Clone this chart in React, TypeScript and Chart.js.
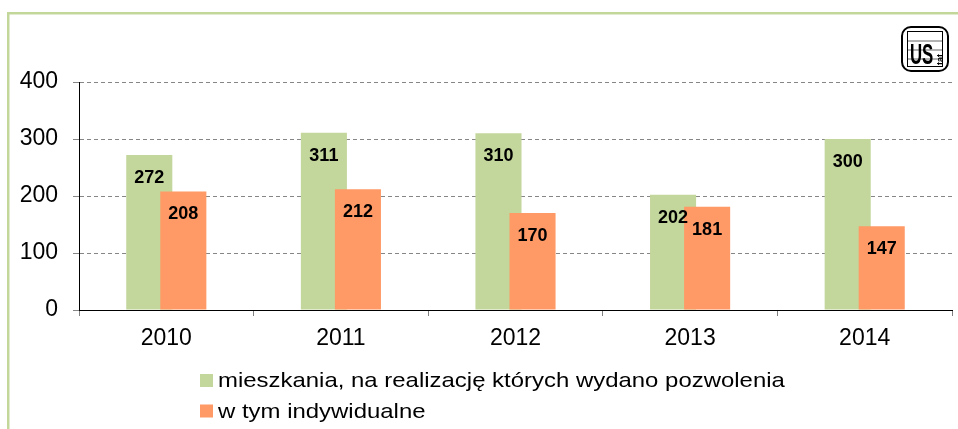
import React, { useEffect, useRef } from "react";
import { Chart, registerables } from "chart.js";

Chart.register(...registerables);

const categories = ["2010", "2011", "2012", "2013", "2014"];
const totalPermits = [272, 311, 310, 202, 300];
const individualPermits = [208, 212, 170, 181, 147];
const seriesLabels = [
  "mieszkania, na realizację których wydano pozwolenia",
  "w tym indywidualne",
];
const yMin = 0;
const yMax = 400;
const yStep = 100;

const FONT = "'Liberation Sans', Arial, sans-serif";
const GREEN = "#c3d69b";
const ORANGE = "#ff9966";
const FRAME = "#c4d79b";

const W = 958;
const H = 429;

const decorPlugin = {
  id: "decor",
  beforeDraw(chart: any) {
    const ctx = chart.ctx;
    ctx.save();
    ctx.fillStyle = "#ffffff";
    ctx.fillRect(0, 0, W, H);
    ctx.fillStyle = FRAME;
    ctx.fillRect(7, 12, W - 7, 2.5);
    ctx.fillRect(7, 12, 2.5, H - 12);
    ctx.restore();
  },
  // draw the first series underneath the second one (second series overlaps it)
  beforeDatasetsDraw(chart: any) {
    const meta = chart.getDatasetMeta(0);
    if (meta && meta.controller) meta.controller.draw();
  },
  beforeDatasetDraw(chart: any, args: any) {
    if (args.index === 0) return false;
  },
  afterDatasetsDraw(chart: any) {
    const ctx = chart.ctx;
    ctx.save();
    ctx.font = `bold 18px ${FONT}`;
    ctx.fillStyle = "#000";
    ctx.textAlign = "center";
    ctx.textBaseline = "middle";
    chart.data.datasets.forEach((ds: any, i: number) => {
      const meta = chart.getDatasetMeta(i);
      meta.data.forEach((bar: any, j: number) => {
        ctx.fillText(String(ds.data[j]), bar.x, bar.y + 23);
      });
    });
    ctx.restore();
  },
  afterDraw(chart: any) {
    const ctx = chart.ctx;
    ctx.save();
    // legend
    ctx.textBaseline = "middle";
    ctx.textAlign = "left";
    const rowY = [380.5, 411];
    chart.data.datasets.forEach((ds: any, i: number) => {
      ctx.fillStyle = ds.backgroundColor;
      ctx.fillRect(200, rowY[i] - 6.5, 13, 13);
      ctx.fillStyle = "#000";
      ctx.save();
      ctx.translate(218, rowY[i] + 1);
      ctx.scale(1.14, 1);
      ctx.font = `21px ${FONT}`;
      ctx.fillText(ds.label, 0, 0);
      ctx.restore();
    });
    // logo
    const lx = 902, ly = 27, lw = 46, lh = 44;
    ctx.strokeStyle = "#000";
    ctx.lineWidth = 2;
    ctx.beginPath();
    (ctx as any).roundRect(lx, ly, lw, lh, 9);
    ctx.stroke();
    ctx.lineWidth = 1;
    ctx.strokeRect(lx + 5.5, ly + 4.5, lw - 11, lh - 9);
    ctx.strokeStyle = "#666";
    for (let k = 1; k < 4; k++) {
      ctx.beginPath();
      ctx.moveTo(lx + 6, ly + 5 + k * 9);
      ctx.lineTo(lx + lw - 6, ly + 5 + k * 9);
      ctx.stroke();
    }
    ctx.fillStyle = "#000";
    ctx.textBaseline = "alphabetic";
    ctx.save();
    ctx.translate(lx + 8, ly + 37);
    ctx.scale(0.7, 1.25);
    ctx.font = `bold 24px ${FONT}`;
    ctx.fillText("U", 0, 0);
    ctx.fillText("S", 17, 0);
    ctx.restore();
    ctx.save();
    ctx.translate(lx + 41, ly + 38);
    ctx.rotate(-Math.PI / 2);
    ctx.font = `bold 9px ${FONT}`;
    ctx.fillText("tat", 0, 0);
    ctx.restore();
    ctx.restore();
  },
};

export default function App() {
  const ref = useRef<HTMLCanvasElement | null>(null);
  useEffect(() => {
    document.body.style.margin = "0";
    if (!ref.current) return;
    const chart = new Chart(ref.current, {
      type: "bar",
      data: {
        labels: categories,
        datasets: [
          {
            label: seriesLabels[0],
            data: totalPermits,
            backgroundColor: GREEN,
            categoryPercentage: 0.39,
            barPercentage: 1.353,
          },
          {
            label: seriesLabels[1],
            data: individualPermits,
            backgroundColor: ORANGE,
            categoryPercentage: 0.39,
            barPercentage: 1.353,
          },
        ],
      },
      plugins: [decorPlugin],
      options: {
        animation: false,
        responsive: false,
        devicePixelRatio: 1,
        layout: { padding: { left: 0, right: 6, top: 82, bottom: 79 } },
        plugins: {
          legend: { display: false },
          tooltip: { enabled: false },
          title: { display: false },
        },
        scales: {
          x: {
            afterFit: (s: any) => {
              s.height = 40;
            },
            grid: {
              display: true,
              drawOnChartArea: false,
              drawTicks: true,
              tickLength: 6,
              offset: true,
              color: "#808080",
            },
            border: { display: true, color: "#000", width: 1 },
            ticks: {
              color: "#000",
              font: { family: FONT, size: 23 },
              padding: 9,
            },
          },
          y: {
            min: yMin,
            max: yMax,
            afterFit: (s: any) => {
              s.width = 79;
            },
            grid: {
              color: (c: any) => (c.tick && c.tick.value === 0 ? "rgba(0,0,0,0)" : "#868686"),
              tickColor: "#868686",
              tickLength: 6,
            },
            border: { display: true, color: "#000", width: 1, dash: [4, 3] },
            ticks: {
              stepSize: yStep,
              color: "#000",
              font: { family: FONT, size: 23 },
              padding: 15,
            },
          },
        },
      },
    } as any);
    return () => chart.destroy();
  }, []);
  return (
    <div style={{ width: W, height: H }}>
      <canvas ref={ref} width={W} height={H} style={{ display: "block" }} />
    </div>
  );
}
